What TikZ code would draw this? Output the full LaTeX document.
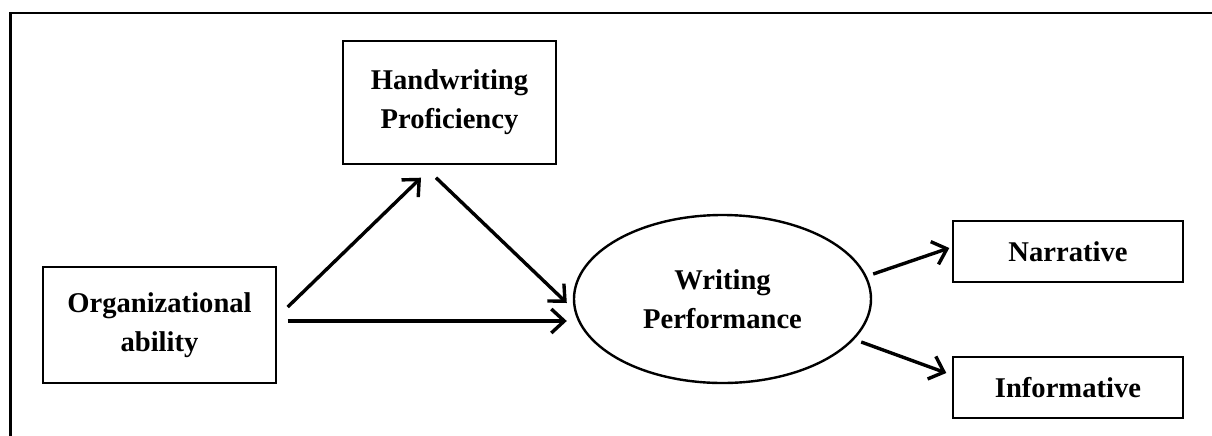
\documentclass[tikz,border=0pt]{standalone}
\usepackage{fontspec}
\setmainfont{Liberation Serif}
\usetikzlibrary{arrows.meta,shapes.geometric}
\tikzset{
  frameline/.style={line width=1.3pt, line cap=rect},
  boxnode/.style={draw, line width=0.7pt, rectangle, inner sep=0pt, align=center,
    font=\bfseries\fontsize{14.3}{19.5}\selectfont},
  ellnode/.style={draw, line width=1.2pt, ellipse, inner sep=0pt, align=center,
    minimum width=148.5pt, minimum height=84pt,
    font=\bfseries\fontsize{14.3}{19.5}\selectfont},
  arr/.style={line width=1.7pt, -{Straight Barb[length=6.5pt,width=12pt,line width=1.7pt]}}
}
\begin{document}
\begin{tikzpicture}[x=0.5pt,y=-0.5pt]
\useasboundingbox (0,0) rectangle (1212,435);
\fill[white] (0,0) rectangle (1212,435);
\draw[frameline] (10.5,437) -- (10.5,13) -- (1214,13);

\node[boxnode, minimum width=116.5pt, minimum height=58pt] (org) at (159.5,325) {Organizational\\ability};
\node[boxnode, minimum width=106.5pt, minimum height=61.5pt] (hand) at (449.5,102.5) {Handwriting\\Proficiency};
\node[ellnode] (wp) at (722.5,299) {Writing\\Performance};
\node[boxnode, minimum width=115pt, minimum height=30.5pt] (narr) at (1068,251.5) {Narrative};
\node[boxnode, minimum width=115pt, minimum height=30.5pt] (info) at (1068,387.5) {Informative};

\draw[arr] ([xshift=5.5pt,yshift=9pt]org.east) -- ([xshift=-14.25pt,yshift=-6.5pt]hand.south);
\draw[arr] ([xshift=5.5pt,yshift=2pt]org.east) -- ([xshift=-3pt,yshift=-11pt]wp.west);
\draw[arr] ([xshift=-6.75pt,yshift=-6.5pt]hand.south) -- ([xshift=-3pt,yshift=-2pt]wp.west);
\draw[arr] ([xshift=0.5pt,yshift=12.5pt]wp.east) -- ([xshift=-1.5pt,yshift=1.75pt]narr.west);
\draw[arr] ([xshift=-5.5pt,yshift=-21.5pt]wp.east) -- ([xshift=-3pt,yshift=7.25pt]info.west);
\end{tikzpicture}
\end{document}
